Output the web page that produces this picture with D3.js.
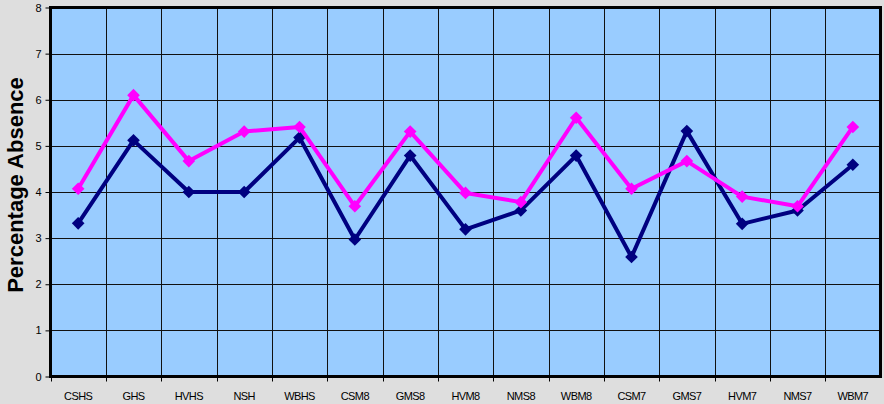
<!DOCTYPE html>
<html>
<head>
<meta charset="utf-8">
<script src="https://cdn.jsdelivr.net/npm/d3@7"></script>
<style>
html,body{margin:0;padding:0;background:#dedede;}
svg{display:block;font-family:Arial,"Liberation Sans",sans-serif;}
</style>
</head>
<body>
<svg id="chart" width="884" height="404"></svg>
<script>
const categories = ["CSHS","GHS","HVHS","NSH","WBHS","CSM8","GMS8","HVM8","NMS8","WBM8","CSM7","GMS7","HVM7","NMS7","WBM7"];
const seriesNavy = [3.32,5.12,4.0,4.0,5.18,2.97,4.79,3.19,3.6,4.79,2.59,5.32,3.31,3.6,4.59];
const seriesMagenta = [4.07,6.1,4.67,5.31,5.41,3.69,5.31,3.98,3.78,5.61,4.07,4.67,3.9,3.69,5.41];
const yTicks = [0,1,2,3,4,5,6,7,8];
const yLabel = "Percentage Absence";

(function(){
const svg = d3.select("#chart");
const pLeft = 50.5, pRight = 880.5, pTop = 7.5, pBottom = 376.5;

svg.append("rect").attr("width",884).attr("height",404).attr("fill","#dedede");

const x = d3.scaleBand().domain(categories).range([pLeft,pRight]).paddingInner(0).paddingOuter(0);
const y = d3.scaleLinear().domain([0,8]).range([pBottom,pTop]);

svg.append("rect").attr("x",pLeft).attr("y",pTop).attr("width",pRight-pLeft).attr("height",pBottom-pTop).attr("fill","#99ccff");

svg.append("g").selectAll("line").data(yTicks.slice(1,-1)).join("line")
  .attr("x1",pLeft).attr("x2",pRight)
  .attr("y1",d=>Math.round(y(d))+0.5).attr("y2",d=>Math.round(y(d))+0.5)
  .attr("stroke","#111").attr("stroke-width",1);

svg.append("g").selectAll("line").data(categories.slice(1)).join("line")
  .attr("x1",d=>Math.round(x(d))+0.5).attr("x2",d=>Math.round(x(d))+0.5)
  .attr("y1",pTop).attr("y2",pBottom)
  .attr("stroke","#111").attr("stroke-width",1);

svg.append("rect").attr("x",pLeft).attr("y",pTop).attr("width",pRight-pLeft).attr("height",pBottom-pTop)
  .attr("fill","none").attr("stroke","#000").attr("stroke-width",3);

const yAxis = d3.axisLeft(y).tickValues(yTicks).tickSize(4).tickPadding(4).tickFormat(d3.format("d"));
const gy = svg.append("g").attr("transform",`translate(${pLeft-1},0)`).call(yAxis);
gy.select(".domain").remove();
gy.selectAll("text").attr("font-size",11).attr("fill","#000").attr("font-family","Arial, 'Liberation Sans', sans-serif");

const xAxis = d3.axisBottom(x).tickSize(0).tickPadding(15);
const gx = svg.append("g").attr("transform",`translate(0,${pBottom+1})`).call(xAxis);
gx.select(".domain").remove();
gx.selectAll("text").attr("font-size",11).attr("fill","#000").attr("letter-spacing","-0.6").attr("font-family","Arial, 'Liberation Sans', sans-serif");
svg.append("g").selectAll("line").data(categories).join("line")
  .attr("x1",d=>Math.round(x(d))+0.5).attr("x2",d=>Math.round(x(d))+0.5)
  .attr("y1",pBottom+1).attr("y2",pBottom+5).attr("stroke","#000");

svg.append("text").attr("transform",`translate(23,185) rotate(-90)`)
  .attr("text-anchor","middle").attr("font-size",22).attr("font-weight","bold").attr("fill","#000")
  .text(yLabel);

const cx = d => x(d) + x.bandwidth()/2;
function drawSeries(vals,color){
  const line = d3.line().x((d,i)=>cx(categories[i])).y(d=>y(d));
  svg.append("path").datum(vals).attr("d",line).attr("fill","none").attr("stroke",color).attr("stroke-width",4).attr("stroke-linejoin","round");
  const sym = d3.symbol().type(d3.symbolSquare).size(80);
  svg.append("g").selectAll("path").data(vals).join("path")
    .attr("d",sym)
    .attr("transform",(d,i)=>`translate(${cx(categories[i])},${y(d)}) rotate(45)`)
    .attr("fill",color);
}
drawSeries(seriesNavy,"#000080");
drawSeries(seriesMagenta,"#ff00ff");
})();
</script>
</body>
</html>
